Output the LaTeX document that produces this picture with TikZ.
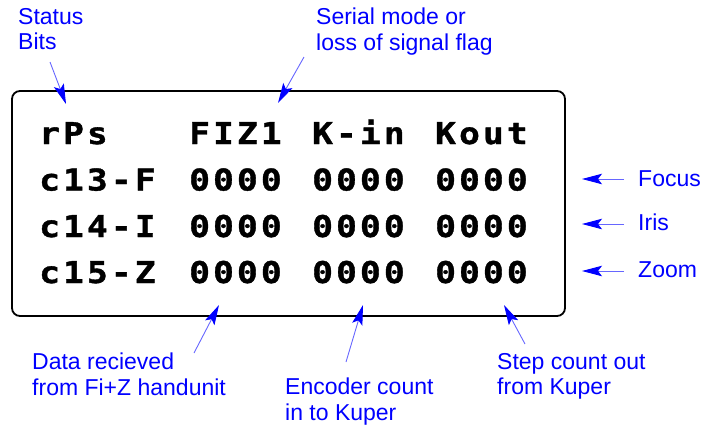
\documentclass[tikz,border=0pt]{standalone}
\usepackage{fontspec}
\setmainfont{Liberation Sans}
\newfontfamily\lcdfont{DejaVu Sans Mono}[FakeStretch=1.15, FakeBold=1.2, LetterSpace=10.5]
\usetikzlibrary{arrows.meta}

\begin{document}
\begin{tikzpicture}[x=1pt,y=-1pt,
  lcd/.style={font=\lcdfont\bfseries\fontsize{30}{30}\selectfont, anchor=base west, inner sep=0pt},
  note/.style={text=blue, font=\fontsize{23}{25.5}\selectfont, align=left, inner sep=0pt, anchor=north west},
  tag/.style={text=blue, font=\fontsize{23}{25.5}\selectfont, inner sep=0pt, anchor=base west},
  pointer/.style={draw=blue!60, line width=0.9pt, -{Stealth[length=20pt,width=10.5pt,inset=4pt,color=blue]}},
  panel/.style={draw=black, line width=1.8pt, rounded corners=8pt, inner sep=0pt}
]
\useasboundingbox (0,0) rectangle (702,426);

% display frame
\node[panel, minimum width=553pt, minimum height=225pt] (display) at (288.5,203.5) {};

% header row
\node[lcd] (h0) at (39,144) {rPs};
\node[lcd] (h1) at (189,144) {FIZ1};
\node[lcd] (h2) at (312,144) {K-in};
\node[lcd] (h3) at (435,144) {Kout};

% channel rows
\node[lcd] (f0) at (39,190.5) {c13-F};
\node[lcd] (f1) at (189,190.5) {0000};
\node[lcd] (f2) at (312,190.5) {0000};
\node[lcd] (f3) at (435,190.5) {0000};

\node[lcd] (i0) at (39,237) {c14-I};
\node[lcd] (i1) at (189,237) {0000};
\node[lcd] (i2) at (312,237) {0000};
\node[lcd] (i3) at (435,237) {0000};

\node[lcd] (z0) at (39,283) {c15-Z};
\node[lcd] (z1) at (189,283) {0000};
\node[lcd] (z2) at (312,283) {0000};
\node[lcd] (z3) at (435,283) {0000};

% annotations
\node[note] (status) at (18,8) {Status\\Bits};
\node[note] (serial) at (316,8) {Serial mode or\\loss of signal flag};
\node[note] (data) at (32,353) {Data recieved\\from Fi+Z handunit};
\node[note] (enc) at (285,378) {Encoder count\\in to Kuper};
\node[note] (step) at (497,353) {Step count out\\from Kuper};
\node[tag] (focus) at (638,186) {Focus};
\node[tag] (iris) at (638,230) {Iris};
\node[tag] (zoom) at (638,277) {Zoom};

% pointer ends
\coordinate (statusT) at (50,62);   \coordinate (statusH) at (66,104);
\coordinate (serialT) at (304,57);  \coordinate (serialH) at (278,103);
\coordinate (dataT) at (194,353);   \coordinate (dataH) at (219,305);
\coordinate (encT) at (346,362);    \coordinate (encH) at (363,305);
\coordinate (stepT) at (525,344);   \coordinate (stepH) at (504,305);
\coordinate (focusT) at (624,179);  \coordinate (focusH) at (582,179);
\coordinate (irisT) at (624,224);   \coordinate (irisH) at (582,224);
\coordinate (zoomT) at (624,271);   \coordinate (zoomH) at (582,271);

\draw[pointer] (statusT) -- (statusH);
\draw[pointer] (serialT) -- (serialH);
\draw[pointer] (dataT) -- (dataH);
\draw[pointer] (encT) -- (encH);
\draw[pointer] (stepT) -- (stepH);
\draw[pointer] (focusT) -- (focusH);
\draw[pointer] (irisT) -- (irisH);
\draw[pointer] (zoomT) -- (zoomH);
\end{tikzpicture}
\end{document}
